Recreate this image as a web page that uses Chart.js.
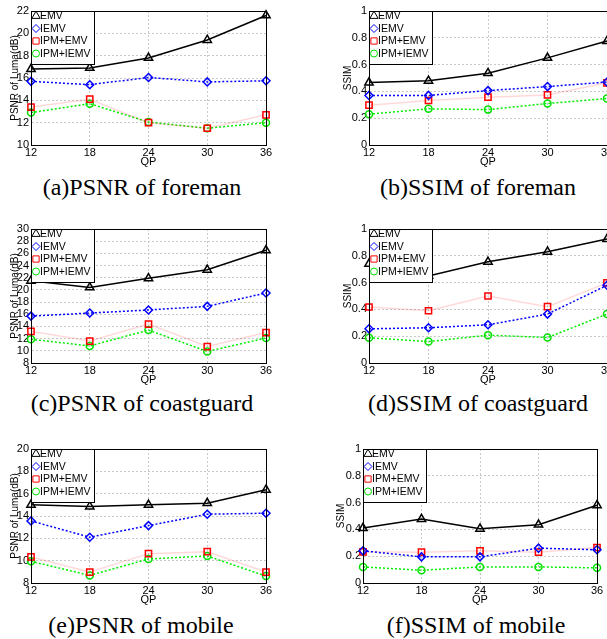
<!DOCTYPE html>
<html>
<head>
<meta charset="utf-8">
<script src="https://cdn.jsdelivr.net/npm/chart.js@4/dist/chart.umd.min.js"></script>
<style>
    body { margin: 0; width: 607px; height: 639px; background: #fff; overflow: hidden; position: relative; }
    canvas { position: absolute; }
    .caption {
        position: absolute; width: 300px; margin-left: -150px; text-align: center;
        font-family: 'Liberation Serif', 'Times New Roman', serif; font-size: 24px; color: #000;
        line-height: 24px; white-space: nowrap;
    }
</style>
</head>
<body>
<canvas id="c1"></canvas>
<canvas id="c2"></canvas>
<canvas id="c3"></canvas>
<canvas id="c4"></canvas>
<canvas id="c5"></canvas>
<canvas id="c6"></canvas>
<div class="caption" style="left:142px; top:175px;">(a)PSNR of foreman</div>
<div class="caption" style="left:478px; top:175px;">(b)SSIM of foreman</div>
<div class="caption" style="left:142px; top:391px;">(c)PSNR of coastguard</div>
<div class="caption" style="left:478px; top:391px;">(d)SSIM of coastguard</div>
<div class="caption" style="left:141px; top:613px;">(e)PSNR of mobile</div>
<div class="caption" style="left:476px; top:613px;">(f)SSIM of mobile</div>

<script>
// 数据
const qpLabels = ['12', '18', '24', '30', '36'];
const seriesNames = ['EMV', 'IEMV', 'IPM+EMV', 'IPM+IEMV'];

const foremanPsnrEmv = [16.8, 16.9, 17.8, 19.4, 21.6];
const foremanPsnrIemv = [15.7, 15.4, 16.05, 15.65, 15.75];
const foremanPsnrIpmEmv = [13.4, 14.1, 12.0, 11.5, 12.7];
const foremanPsnrIpmIemv = [12.9, 13.7, 12.05, 11.5, 12.0];

const foremanSsimEmv = [0.466, 0.479, 0.536, 0.65, 0.776];
const foremanSsimIemv = [0.37, 0.37, 0.406, 0.436, 0.47];
const foremanSsimIpmEmv = [0.297, 0.332, 0.357, 0.374, 0.464];
const foremanSsimIpmIemv = [0.23, 0.27, 0.264, 0.31, 0.347];

const coastPsnrEmv = [21.5, 20.4, 21.9, 23.3, 26.5];
const coastPsnrIemv = [15.7, 16.2, 16.7, 17.3, 19.5];
const coastPsnrIpmEmv = [13.2, 11.6, 14.4, 10.7, 13.0];
const coastPsnrIpmIemv = [11.9, 10.8, 13.4, 9.9, 12.1];

const coastSsimEmv = [0.74, 0.65, 0.755, 0.83, 0.925];
const coastSsimIemv = [0.255, 0.263, 0.285, 0.365, 0.58];
const coastSsimIpmEmv = [0.418, 0.39, 0.5, 0.42, 0.598];
const coastSsimIpmIemv = [0.188, 0.16, 0.208, 0.19, 0.365];

const mobilePsnrEmv = [15.0, 14.85, 15.0, 15.15, 16.35];
const mobilePsnrIemv = [13.56, 12.1, 13.14, 14.16, 14.25];
const mobilePsnrIpmEmv = [10.33, 8.98, 10.63, 10.8, 8.98];
const mobilePsnrIpmIemv = [9.94, 8.68, 10.15, 10.42, 8.62];

const mobileSsimEmv = [0.41, 0.477, 0.405, 0.435, 0.58];
const mobileSsimIemv = [0.24, 0.195, 0.195, 0.26, 0.248];
const mobileSsimIpmEmv = [0.233, 0.23, 0.24, 0.23, 0.265];
const mobileSsimIpmIemv = [0.12, 0.095, 0.12, 0.12, 0.113];

const FONT = "'Liberation Sans', Arial, sans-serif";
const Y_W = 31, PAD_T = 11, PAD_R = 14, X_H = 22;

// 系列样式
const seriesStyles = [
    { color: '#000000', line: '#000000', dash: [], point: 'triangle', radius: 4.8 },
    { color: '#0000ff', line: '#0000ff', dash: [2, 2], point: 'rectRot', radius: 4 },
    { color: '#ff0000', line: 'rgba(255, 0, 0, 0.15)', dash: [], point: 'rect', radius: 4.4 },
    { color: '#00e000', line: '#00ee00', dash: [2, 2], point: 'circle', radius: 3.5 }
];

// 图框
const framePlugin = {
    id: 'frame',
    afterDraw(chart) {
        const a = chart.chartArea, ctx = chart.ctx;
        ctx.save();
        ctx.strokeStyle = '#000';
        ctx.lineWidth = 1;
        ctx.strokeRect(Math.round(a.left) + 0.5, Math.round(a.top) + 0.5,
            Math.round(a.right - a.left), Math.round(a.bottom - a.top));
        ctx.restore();
    }
};

// 图例（画在数据上方）
const boxLegendPlugin = {
    id: 'boxLegend',
    afterDatasetsDraw(chart) {
        const a = chart.chartArea, ctx = chart.ctx;
        const rowH = 12.5;
        ctx.save();
        ctx.font = '10.5px ' + FONT;
        let maxW = 0;
        chart.data.datasets.forEach(ds => { maxW = Math.max(maxW, ctx.measureText(ds.label).width); });
        const left = Math.round(a.left), top = Math.round(a.top);
        const w = Math.round(10 + maxW + 3), h = Math.round(rowH * 4 + 3);
        ctx.fillStyle = '#fff';
        ctx.fillRect(left, top, w, h);
        ctx.strokeStyle = '#000';
        ctx.lineWidth = 1;
        ctx.strokeRect(left + 0.5, top + 0.5, w, h);
        chart.data.datasets.forEach((ds, i) => {
            const y = top + 5 + i * rowH;
            ctx.strokeStyle = ds.pointBorderColor;
            ctx.fillStyle = 'rgba(0,0,0,0)';
            Chart.helpers.drawPoint(ctx, {
                pointStyle: ds.pointStyle, radius: ds.pointRadius, borderWidth: 1.5, rotation: 0
            }, left + 5, y);
            ctx.fillStyle = '#000';
            ctx.textBaseline = 'middle';
            ctx.textAlign = 'left';
            ctx.fillText(ds.label, left + 9, y + 0.5);
        });
        ctx.restore();
    }
};

function makePanel(id, area, yTitle, yMin, yMax, yStep, titleGap, series) {
    const canvas = document.getElementById(id);
    const w = area.r - area.l + Y_W + PAD_R;
    const h = area.b - area.t + PAD_T + X_H;
    canvas.width = w;
    canvas.height = h;
    canvas.style.left = (area.l - Y_W) + 'px';
    canvas.style.top = (area.t - PAD_T) + 'px';
    canvas.style.width = w + 'px';
    canvas.style.height = h + 'px';

    return new Chart(canvas, {
        type: 'line',
        data: {
            labels: qpLabels,
            datasets: series.map((values, i) => ({
                label: seriesNames[i],
                data: values,
                borderColor: seriesStyles[i].line,
                borderWidth: 1.5,
                borderDash: seriesStyles[i].dash,
                pointStyle: seriesStyles[i].point,
                pointRadius: seriesStyles[i].radius,
                pointBorderColor: seriesStyles[i].color,
                pointBackgroundColor: 'rgba(0,0,0,0)',
                pointBorderWidth: 1.5,
                tension: 0,
                fill: false,
                clip: false
            }))
        },
        options: {
            responsive: false,
            animation: false,
            devicePixelRatio: 1,
            layout: { padding: { top: PAD_T, right: PAD_R, left: 0, bottom: 0 } },
            plugins: {
                legend: { display: false },
                tooltip: { enabled: false }
            },
            scales: {
                x: {
                    type: 'category',
                    offset: false,
                    afterFit: scale => { scale.height = X_H; },
                    grid: { color: '#c8c8c8', tickLength: 0, lineWidth: 1 },
                    border: { color: '#000', dash: [2, 2] },
                    ticks: { color: '#000', padding: 2, maxRotation: 0, autoSkip: false, font: { family: FONT, size: 11, lineHeight: 1 } },
                    title: { display: true, text: 'QP', color: '#000', padding: 0, font: { family: FONT, size: 11, lineHeight: 1 } }
                },
                y: {
                    min: yMin,
                    max: yMax,
                    afterFit: scale => { scale.width = Y_W; },
                    grid: { color: '#c8c8c8', tickLength: 0, lineWidth: 1 },
                    border: { color: '#000', dash: [2, 2] },
                    ticks: {
                        stepSize: yStep, autoSkip: false, color: '#000', padding: 2,
                        font: { family: FONT, size: 11 },
                        callback: v => String(Number(v.toFixed(2)))
                    },
                    title: {
                        display: true, text: yTitle, color: '#000',
                        padding: { top: Y_W - titleGap - 5.5, bottom: 0 },
                        font: { family: FONT, size: 10, lineHeight: 1.1 }
                    }
                }
            }
        },
        plugins: [boxLegendPlugin, framePlugin]
    });
}

document.addEventListener('DOMContentLoaded', function() {
    makePanel('c1', { l: 31, t: 11, r: 266, b: 145 }, 'PSNR of Luma(dB)', 10, 22, 2, 16,
        [foremanPsnrEmv, foremanPsnrIemv, foremanPsnrIpmEmv, foremanPsnrIpmIemv]);
    makePanel('c2', { l: 369, t: 11, r: 607, b: 145 }, 'SSIM', 0, 1, 0.2, 21,
        [foremanSsimEmv, foremanSsimIemv, foremanSsimIpmEmv, foremanSsimIpmIemv]);
    makePanel('c3', { l: 31, t: 229, r: 266, b: 363 }, 'PSNR of Luma(dB)', 8, 30, 2, 16,
        [coastPsnrEmv, coastPsnrIemv, coastPsnrIpmEmv, coastPsnrIpmIemv]);
    makePanel('c4', { l: 369, t: 229, r: 607, b: 363 }, 'SSIM', 0, 1, 0.2, 21,
        [coastSsimEmv, coastSsimIemv, coastSsimIpmEmv, coastSsimIpmIemv]);
    makePanel('c5', { l: 31, t: 449, r: 266, b: 583 }, 'PSNR of Luma(dB)', 8, 20, 2, 16,
        [mobilePsnrEmv, mobilePsnrIemv, mobilePsnrIpmEmv, mobilePsnrIpmIemv]);
    makePanel('c6', { l: 363, t: 449, r: 597, b: 583 }, 'SSIM', 0, 1, 0.2, 22,
        [mobileSsimEmv, mobileSsimIemv, mobileSsimIpmEmv, mobileSsimIpmIemv]);
});
</script>
</body>
</html>
